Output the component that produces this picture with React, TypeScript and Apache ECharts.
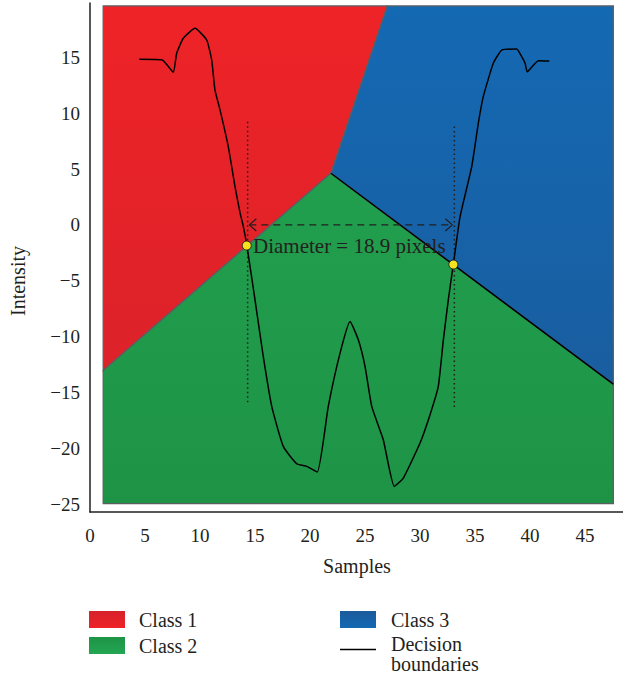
import React, { useEffect, useRef } from "react";
import * as echarts from "echarts";

// ---- data ----
const xTickValues = [0, 5, 10, 15, 20, 25, 30, 35, 40, 45];
const yTickValues = [-25, -20, -15, -10, -5, 0, 5, 10, 15];

const regionNames = ["Class 1", "Class 2", "Class 3"];
const class1Polygon = [[1.2, 19.6], [27.03, 19.6], [21.9, 4.62], [1.2, -13.03]];
const class2Polygon = [[1.2, -13.03], [21.9, 4.62], [47.57, -14.25], [47.57, -24.95], [1.2, -24.95]];
const class3Polygon = [[27.03, 19.6], [47.57, 19.6], [47.57, -14.25], [21.9, 4.62]];
const regionPolygons = [class1Polygon, class2Polygon, class3Polygon];
const regionTop = 19.6;
const regionBottom = -24.95;

const boundary23 = [[21.9, 4.62], [47.57, -14.25]];

const profileCurve = [
  [4.48, 14.82], [6.57, 14.76], [7.57, 13.66], [7.88, 15.36], [8.48, 16.7], [9.55, 17.59],
  [10.61, 16.55], [11.06, 14.76], [11.36, 12.07], [11.82, 10.29], [12.57, 7.0], [13.18, 3.43],
  [13.64, 1.07], [13.94, -0.15], [14.25, -1.79], [15.0, -6.71], [15.75, -11.78], [16.52, -16.25],
  [17.57, -19.83], [18.79, -21.38], [19.7, -21.62], [20.66, -22.12], [21.66, -16.25], [22.73, -11.48],
  [23.64, -8.65], [24.39, -10.29], [25.0, -12.67], [25.61, -16.25], [26.66, -19.23], [27.66, -23.41],
  [28.48, -22.66], [30.0, -19.53], [30.91, -16.99], [31.66, -14.46], [32.12, -10.29], [32.57, -6.71],
  [33.03, -3.52], [33.64, 0.74], [34.7, 5.21], [35.3, 9.1], [35.75, 11.48], [36.66, 14.46],
  [37.43, 15.65], [38.79, 15.74], [39.24, 15.05], [39.55, 14.46], [39.75, 13.71], [40.75, 14.7],
  [41.75, 14.67],
];

const leftDotted = [[14.33, 9.24], [14.33, -15.95]];
const rightDotted = [[33.12, 8.8], [33.12, -16.3]];
const diameterArrow = [[14.48, 0], [32.94, 0]];
const leftArrowHead = [[15.12, 0.54], [14.48, 0], [15.12, -0.54]];
const rightArrowHead = [[32.3, 0.54], [32.94, 0], [32.3, -0.54]];
const edgePoints = [[14.25, -1.85], [33.03, -3.55]];
const annotationText = "Diameter = 18.9 pixels";

const FONT = "'Liberation Serif', 'Times New Roman', serif";
const TXT = "#231f20";

const regionColors = [
  ["#ee2327", "#d6222b"],
  ["#23a652", "#1e9346"],
  ["#1469b3", "#1b5a9a"],
];

export default function App() {
  const ref = useRef<HTMLDivElement>(null);
  useEffect(() => {
    if (!ref.current) return;
    const chart = echarts.init(ref.current, null, { renderer: "svg" });
    const lineSeries = (data: number[][], style: any, z: number) => ({
      type: "line",
      data,
      symbol: "none",
      silent: true,
      z,
      lineStyle: style,
      animation: false,
    });
    const option: any = {
      animation: false,
      grid: { left: 90, right: 0, top: 3, bottom: 164, containLabel: false },
      xAxis: {
        type: "value",
        min: 0,
        max: 48.45,
        axisLine: { show: true, onZero: false, lineStyle: { color: TXT, width: 1.5 } },
        axisTick: { show: false },
        splitLine: { show: false },
        axisLabel: {
          customValues: xTickValues,
          margin: 14,
          fontFamily: FONT,
          fontSize: 19,
          color: TXT,
        },
      },
      yAxis: {
        type: "value",
        min: -25.7,
        max: 19.86,
        axisLine: { show: true, onZero: false, lineStyle: { color: TXT, width: 1.5 } },
        axisTick: { show: false },
        splitLine: { show: false },
        axisLabel: {
          customValues: yTickValues,
          margin: 10,
          fontFamily: FONT,
          fontSize: 19,
          color: TXT,
          formatter: (v: number) => (v < 0 ? "\u2212" + Math.abs(v) : String(v)),
        },
      },
      series: [
        {
          type: "custom",
          name: "regions",
          z: 1,
          silent: true,
          data: regionNames.map((_, i) => [i, 0]),
          renderItem: (params: any, api: any) => {
            const i = params.dataIndex;
            const pts = regionPolygons[i].map((p) => api.coord(p));
            const top = api.coord([0, regionTop])[1];
            const bottom = api.coord([0, regionBottom])[1];
            return {
              type: "polygon",
              shape: { points: pts },
              style: {
                fill: new echarts.graphic.LinearGradient(0, top, 0, bottom, [
                  { offset: 0, color: regionColors[i][0] },
                  { offset: 1, color: regionColors[i][1] },
                ], true),
                stroke: "#5d5e60",
                lineWidth: 1.3,
              },
            };
          },
        },
        lineSeries(boundary23, { color: "#000", width: 1.5 }, 3),
        lineSeries(leftDotted, { color: TXT, width: 1.5, type: [1.5, 3] }, 4),
        lineSeries(rightDotted, { color: TXT, width: 1.5, type: [1.5, 3] }, 4),
        lineSeries(diameterArrow, { color: TXT, width: 1.3, type: [7, 5] }, 4),
        lineSeries(leftArrowHead, { color: TXT, width: 1.3 }, 4),
        lineSeries(rightArrowHead, { color: TXT, width: 1.3 }, 4),
        {
          ...lineSeries(profileCurve, { color: "#000", width: 1.5 }, 5),
          smooth: 0.15,
        },
        {
          type: "scatter",
          data: edgePoints,
          symbolSize: 9,
          z: 6,
          silent: true,
          itemStyle: { color: "#f3e21c", borderColor: TXT, borderWidth: 1, opacity: 1 },
        },
      ],
      graphic: [
        {
          type: "text",
          x: 253,
          y: 246,
          z: 10,
          style: { text: annotationText, font: `21px ${FONT}`, fill: TXT, textVerticalAlign: "middle", textAlign: "left" },
        },
        {
          type: "text",
          x: 357,
          y: 566,
          style: { text: "Samples", font: `20px ${FONT}`, fill: TXT, textAlign: "center", textVerticalAlign: "middle" },
        },
        {
          type: "text",
          x: 18,
          y: 281,
          rotation: Math.PI / 2,
          style: { text: "Intensity", font: `20px ${FONT}`, fill: TXT, textAlign: "center", textVerticalAlign: "middle" },
        },
        // legend
        {
          type: "rect",
          shape: { x: 89, y: 611, width: 36, height: 17 },
          style: { fill: new echarts.graphic.LinearGradient(0, 0, 0, 1, [{ offset: 0, color: "#d6222b" }, { offset: 1, color: "#ee2327" }]) },
        },
        {
          type: "text", x: 139, y: 620,
          style: { text: regionNames[0], font: `20px ${FONT}`, fill: TXT, textVerticalAlign: "middle" },
        },
        {
          type: "rect",
          shape: { x: 89, y: 637, width: 36, height: 17 },
          style: { fill: new echarts.graphic.LinearGradient(0, 0, 0, 1, [{ offset: 0, color: "#1e9346" }, { offset: 1, color: "#23a652" }]) },
        },
        {
          type: "text", x: 139, y: 646,
          style: { text: regionNames[1], font: `20px ${FONT}`, fill: TXT, textVerticalAlign: "middle" },
        },
        {
          type: "rect",
          shape: { x: 340, y: 611, width: 36, height: 17 },
          style: { fill: new echarts.graphic.LinearGradient(0, 0, 0, 1, [{ offset: 0, color: "#1b5a9a" }, { offset: 1, color: "#1469b3" }]) },
        },
        {
          type: "text", x: 391, y: 620,
          style: { text: regionNames[2], font: `20px ${FONT}`, fill: TXT, textVerticalAlign: "middle" },
        },
        {
          type: "line",
          shape: { x1: 340, y1: 649.5, x2: 376, y2: 649.5 },
          style: { stroke: "#000", lineWidth: 1.5 },
        },
        {
          type: "text", x: 391, y: 644,
          style: { text: "Decision", font: `20px ${FONT}`, fill: TXT, textVerticalAlign: "middle" },
        },
        {
          type: "text", x: 391, y: 664,
          style: { text: "boundaries", font: `20px ${FONT}`, fill: TXT, textVerticalAlign: "middle" },
        },
      ],
    };
    chart.setOption(option);
    return () => chart.dispose();
  }, []);
  return (
    <div
      ref={ref}
      style={{ position: "fixed", left: 0, top: 0, width: 623, height: 676, background: "#fff" }}
    />
  );
}
